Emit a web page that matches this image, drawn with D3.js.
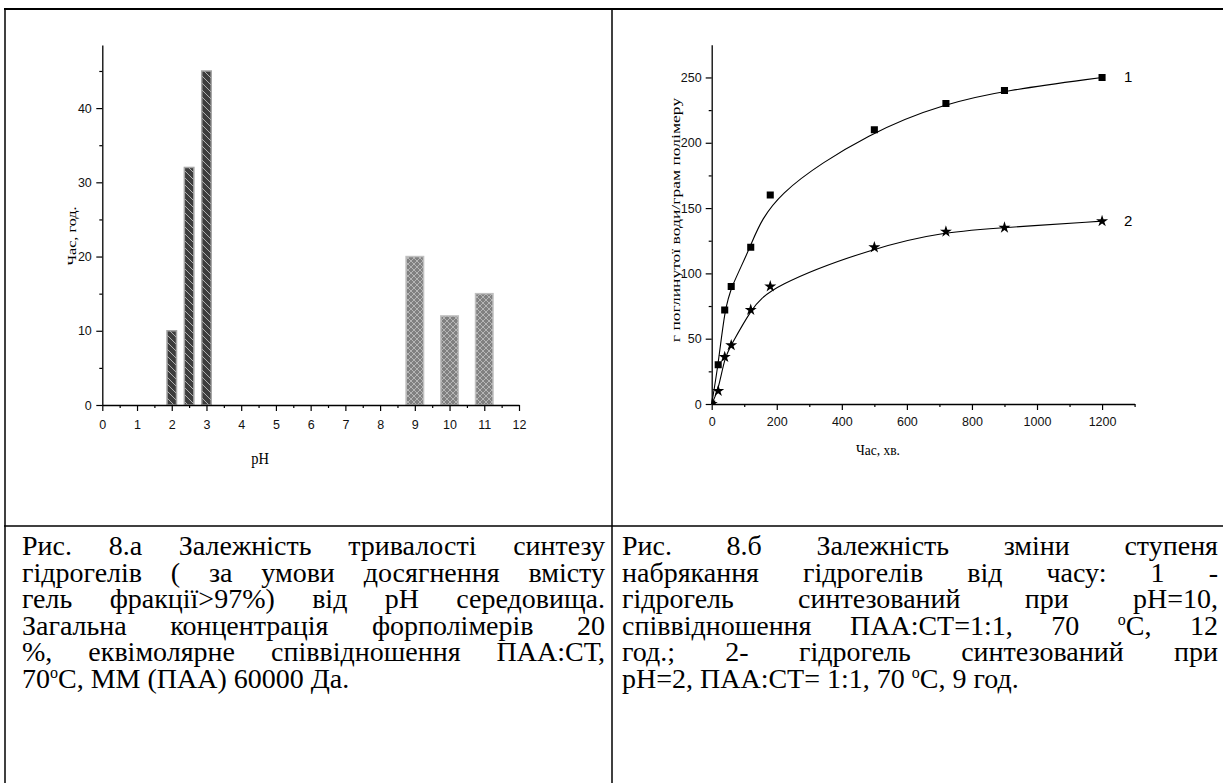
<!DOCTYPE html>
<html><head><meta charset="utf-8">
<script src="https://cdn.jsdelivr.net/npm/d3@7"></script>
<style>
html,body{margin:0;padding:0;background:#fff;} svg{display:block;}
</style>
</head><body>
<svg id="c" width="1223" height="783"></svg>
<script>
// ---------- data ----------
const acidPH = [2, 2.5, 3];
const acidHours = [10, 32, 45];
const alkPH = [9, 10, 11];
const alkHours = [20, 12, 15];
const phTicks = [0,1,2,3,4,5,6,7,8,9,10,11,12];
const phMinor = [0.5,1.5,2.5,3.5,4.5,5.5,6.5,7.5,8.5,9.5,10.5,11.5];
const hourTicks = [0,10,20,30,40];
const hourMinor = [5,15,25,35,45];

const timeMin = [0,20,40,60,120,180,500,720,900,1200];
const uptake1 = [0,30,72,90,120,160,210,230,240,250];
const uptake2 = [0,10,36,45,72,90,120,132,135,140];
const timeTicks = [0,200,400,600,800,1000,1200];
const timeMinor = [100,300,500,700,900,1100,1300];
const uptakeTicks = [0,50,100,150,200,250];
const uptakeMinor = [25,75,125,175,225];
const seriesLabels = ["1","2"];

const leftTitleX = "pH";
const leftTitleY = "Час, год.";
const rightTitleX = "Час, хв.";
const rightTitleY = "г поглинутої води/грам полімеру";

const captionLeft = [
  "Рис. 8.а Залежність тривалості синтезу",
  "гідрогелів ( за умови досягнення вмісту",
  "гель фракції>97%) від рН середовища.",
  "Загальна концентрація форполімерів 20",
  "%, еквімолярне співвідношення ПАА:СТ,",
  "70°С, ММ (ПАА) 60000 Да."
];
const captionRight = [
  "Рис. 8.б Залежність зміни ступеня",
  "набрякання гідрогелів від часу: 1 -",
  "гідрогель синтезований при pH=10,",
  "співвідношення ПАА:СТ=1:1, 70 °С, 12",
  "год.; 2- гідрогель синтезований при",
  "pH=2, ПАА:СТ= 1:1, 70 °С, 9 год."
];

// ---------- setup ----------
const svg = d3.select("#c");
const fmt = d3.format("d");
const SERIF = '"Liberation Serif"';
const SANS = '"Liberation Sans"';

// table borders
const bd = svg.append("g").attr("stroke","#000").attr("fill","none");
bd.append("line").attr("x1",4).attr("x2",1223).attr("y1",9).attr("y2",9).attr("stroke-width",2);
bd.append("line").attr("x1",5).attr("x2",5).attr("y1",8).attr("y2",783).attr("stroke-width",1.5);
bd.append("line").attr("x1",612).attr("x2",612).attr("y1",8).attr("y2",783).attr("stroke-width",1.5);
bd.append("line").attr("x1",4).attr("x2",1223).attr("y1",526).attr("y2",526).attr("stroke-width",1.5);

// patterns
const defs = svg.append("defs");
const p1 = defs.append("pattern").attr("id","hatch").attr("patternUnits","userSpaceOnUse").attr("width",7).attr("height",7);
p1.append("rect").attr("width",7).attr("height",7).attr("fill","#3d3d3d");
p1.append("path").attr("d","M-1,-1 L8,8 M-1,6 L1,8 M6,-1 L8,1").attr("stroke","#b0b0b0").attr("stroke-width",1);
const p2 = defs.append("pattern").attr("id","cross").attr("patternUnits","userSpaceOnUse").attr("width",6).attr("height",6);
p2.append("rect").attr("width",6).attr("height",6).attr("fill","#808080");
p2.append("path").attr("d","M0,0 L6,6 M6,0 L0,6").attr("stroke","#b5b5b5").attr("stroke-width",1);

function styleAxis(g){
  g.attr("font-family",null).attr("font-size",null);
  g.select(".domain").attr("stroke","#000").attr("stroke-width",1.3);
  g.selectAll(".tick line").attr("stroke","#000").attr("stroke-width",1.2);
  g.selectAll(".tick text").style("font-family",SANS).style("font-size","12.5px").attr("fill","#111");
}
function styleMinor(g){
  g.select(".domain").remove();
  g.selectAll(".tick line").attr("stroke","#000").attr("stroke-width",1.2);
}

// ---------- left chart ----------
const xL = d3.scaleLinear().domain([0,12]).range([102.3,519]);
const yL = d3.scaleLinear().domain([0,48.5]).range([405,45]);
const gl = svg.append("g");

const acidW = 9.5, alkW = 17.5;
gl.selectAll("rect.acid").data(acidPH).join("rect").attr("class","acid")
  .attr("x",(d)=>xL(d)-acidW/2).attr("width",acidW)
  .attr("y",(d,i)=>yL(acidHours[i])).attr("height",(d,i)=>yL(0)-yL(acidHours[i]))
  .attr("fill","url(#hatch)").attr("stroke","#a5a5a5").attr("stroke-width",1.5);
gl.selectAll("rect.alk").data(alkPH).join("rect").attr("class","alk")
  .attr("x",(d)=>xL(d)-alkW/2).attr("width",alkW)
  .attr("y",(d,i)=>yL(alkHours[i])).attr("height",(d,i)=>yL(0)-yL(alkHours[i]))
  .attr("fill","url(#cross)").attr("stroke","#c0c0c0").attr("stroke-width",1.5);

gl.append("g").attr("transform",`translate(${xL(0)},0)`)
  .call(d3.axisLeft(yL).tickValues(hourTicks).tickFormat(fmt).tickSize(6).tickPadding(4.5).tickSizeOuter(0)).call(styleAxis);
gl.append("g").attr("transform",`translate(${xL(0)},0)`)
  .call(d3.axisLeft(yL).tickValues(hourMinor).tickSize(3).tickFormat("")).call(styleMinor);
gl.append("g").attr("transform",`translate(0,${yL(0)})`)
  .call(d3.axisBottom(xL).tickValues(phTicks).tickFormat(fmt).tickSize(6).tickPadding(9).tickSizeOuter(0)).call(styleAxis);
gl.append("g").attr("transform",`translate(0,${yL(0)})`)
  .call(d3.axisBottom(xL).tickValues(phMinor).tickSize(3).tickFormat("")).call(styleMinor);

gl.append("text").text(leftTitleX).style("font-family",SERIF).style("font-size","14.5px")
  .attr("text-anchor","middle").attr("transform","translate(260,464) scale(1,1.2)");
gl.append("text").text(leftTitleY).style("font-family",SERIF).style("font-size","13.5px")
  .attr("text-anchor","middle").attr("transform","translate(76,236) rotate(-90) scale(1.2,1)");

// ---------- right chart ----------
const xR = d3.scaleLinear().domain([0,1300]).range([711.7,1134.6]);
const yR = d3.scaleLinear().domain([0,275]).range([404,44.8]);
const gr = svg.append("g");
defs.append("clipPath").attr("id","plotR").append("rect")
  .attr("x",xR(0)).attr("y",yR(275)).attr("width",xR(1300)-xR(0)+10).attr("height",yR(0)-yR(275));

const line = (vals)=> d3.line().x((d,i)=>xR(timeMin[i])).y((d)=>yR(d)).curve(d3.curveBasis)(vals);
[uptake1, uptake2].forEach((vals)=>{
  gr.append("path").attr("d",line(vals)).attr("fill","none").attr("stroke","#000").attr("stroke-width",1.1);
});
const mk = gr.append("g").attr("clip-path","url(#plotR)");
mk.selectAll("path.sq").data(uptake1).join("path").attr("class","sq")
  .attr("transform",(d,i)=>`translate(${xR(timeMin[i])},${yR(d)})`)
  .attr("d",d3.symbol(d3.symbolSquare,50)()).attr("fill","#000");
mk.selectAll("path.st").data(uptake2).join("path").attr("class","st")
  .attr("transform",(d,i)=>`translate(${xR(timeMin[i])},${yR(d)})`)
  .attr("d",d3.symbol(d3.symbolStar,45)()).attr("fill","#000");

gr.append("g").attr("transform",`translate(${xR(0)},0)`)
  .call(d3.axisLeft(yR).tickValues(uptakeTicks).tickFormat(fmt).tickSize(6).tickPadding(4).tickSizeOuter(0)).call(styleAxis);
gr.append("g").attr("transform",`translate(${xR(0)},0)`)
  .call(d3.axisLeft(yR).tickValues(uptakeMinor).tickSize(3).tickFormat("")).call(styleMinor);
gr.append("g").attr("transform",`translate(0,${yR(0)})`)
  .call(d3.axisBottom(xR).tickValues(timeTicks).tickFormat(fmt).tickSize(6).tickPadding(7).tickSizeOuter(0)).call(styleAxis);
gr.append("g").attr("transform",`translate(0,${yR(0)})`)
  .call(d3.axisBottom(xR).tickValues(timeMinor).tickSize(3).tickFormat("")).call(styleMinor);

const lastIdx = timeMin.length-1;
[uptake1, uptake2].forEach((vals,k)=>{
  gr.append("text").text(seriesLabels[k]).style("font-family",SANS).style("font-size","15px")
    .attr("x", xR(timeMin[lastIdx]) + 26).attr("y", yR(vals[lastIdx]) + 5).attr("text-anchor","middle");
});

gr.append("text").text(rightTitleX).style("font-family",SERIF).style("font-size","13.5px")
  .attr("text-anchor","middle").attr("transform","translate(878,455) scale(1,1.13)");
gr.append("text").text(rightTitleY).style("font-family",SERIF).style("font-size","13.5px")
  .attr("text-anchor","middle").attr("transform","translate(680,220) rotate(-90) scale(1.3,1)");

// ---------- captions (justified, measured on canvas) ----------
const CAP_FS = 28, SUP_FS = 16;
const ctx = document.createElement("canvas").getContext("2d");
function measure(s, fs){ ctx.font = fs + 'px "Liberation Serif", serif'; return ctx.measureText(s).width; }
// each word -> list of segments {t, sup}
function segs(word){
  const out = [];
  word.split("°").forEach((p,i)=>{ if(i>0) out.push({t:"o",sup:true}); if(p.length) out.push({t:p,sup:false}); });
  return out;
}
function wordWidth(word){ return d3.sum(segs(word), s=>measure(s.t, s.sup?SUP_FS:CAP_FS)); }
function caption(lines, x0, x1, y0, lh){
  lines.forEach((ln,li)=>{
    const y = y0 + li*lh;
    const words = ln.split(" ");
    const widths = words.map(wordWidth);
    const total = d3.sum(widths);
    const justify = li < lines.length-1 && words.length>1;
    const gap = justify ? (x1-x0-total)/(words.length-1) : measure(" ",CAP_FS);
    let x = x0;
    words.forEach((w,i)=>{
      let sx = x;
      segs(w).forEach(s=>{
        const fs = s.sup?SUP_FS:CAP_FS;
        svg.append("text").text(s.t).attr("x",sx).attr("y", s.sup ? y-10 : y)
          .style("font-family",SERIF).style("font-size",fs+"px");
        sx += measure(s.t, fs);
      });
      x += widths[i]+gap;
    });
  });
}
caption(captionLeft, 22, 605, 555, 26.6);
caption(captionRight, 622, 1218, 555, 26.6);
</script>
</body></html>
